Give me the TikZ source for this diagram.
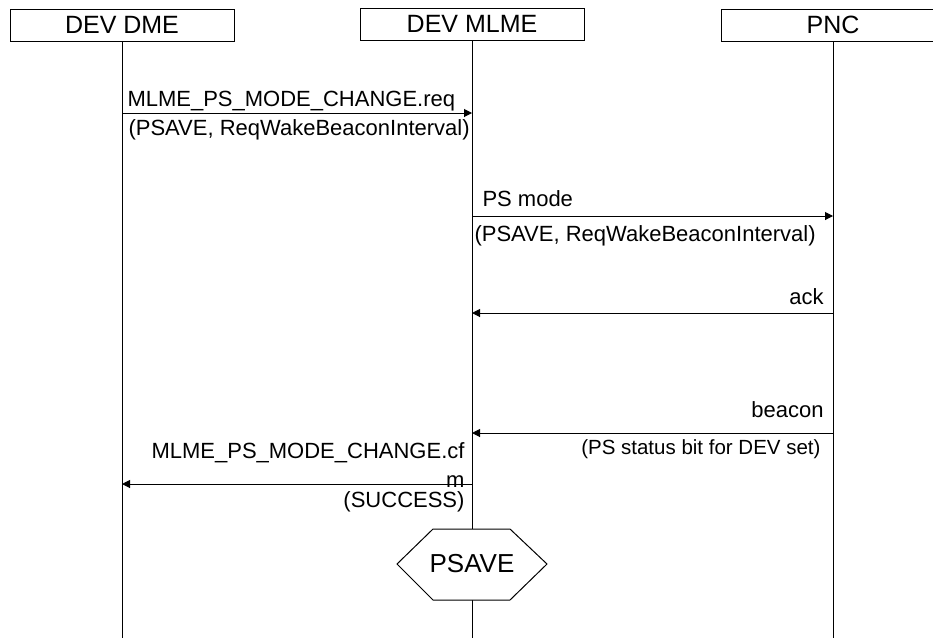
\documentclass[tikz,border=0pt]{standalone}
\usepackage{fontspec}
\setmainfont{Liberation Sans}
\usetikzlibrary{arrows.meta, positioning}

\begin{document}
\begin{tikzpicture}[
    x=1pt, y=-1pt,
    entity/.style={rectangle, draw, line width=1pt, minimum width=224pt, minimum height=32pt, inner sep=0pt, font=\fontsize{25}{30}\selectfont},
    lifeline/.style={line width=1pt},
    msg/.style={-{Triangle[length=8pt, width=8pt]}, line width=1pt},
    label/.style={font=\fontsize{22}{26}\selectfont, inner sep=0pt}
]
    \clip (0,0) rectangle (933,638);

    % Entities
    \node[entity] (dme) at (122,25) {DEV DME};
    \node[entity] (mlme) at (472,24) {DEV MLME};
    \node[entity] (pnc) at (833,25) {PNC};

    % Lifelines
    \coordinate (bottom) at (0,638);
    \draw[lifeline] (dme.south) -- (dme |- bottom);
    \draw[lifeline] (mlme.south) -- (mlme |- bottom);
    \draw[lifeline] (pnc.south) -- (pnc |- bottom);

    % Message rows
    \coordinate (r1) at (0,113);
    \coordinate (r2) at (0,216);
    \coordinate (r3) at (0,313);
    \coordinate (r4) at (0,433);
    \coordinate (r5) at (0,484);

    % Request
    \draw[msg] (dme |- r1) -- (mlme |- r1)
        node[label, pos=0, anchor=base west, xshift=5pt, yshift=7pt] {MLME\_PS\_MODE\_CHANGE.req}
        node[label, pos=0, anchor=base west, xshift=6pt, yshift=-22pt] {(PSAVE, ReqWakeBeaconInterval)};

    % PS mode frame
    \draw[msg] (mlme |- r2) -- (pnc |- r2)
        node[label, pos=0, anchor=base west, xshift=10pt, yshift=10pt] {PS mode}
        node[label, pos=0, anchor=base west, xshift=2pt, yshift=-25pt] {(PSAVE, ReqWakeBeaconInterval)};

    % Ack
    \draw[msg] (pnc |- r3) -- (mlme |- r3)
        node[label, pos=0, anchor=base east, xshift=-9pt, yshift=9pt] {ack};

    % Beacon
    \draw[msg] (pnc |- r4) -- (mlme |- r4)
        node[label, pos=0, anchor=base east, xshift=-9pt, yshift=16pt] {beacon}
        node[label, font=\fontsize{20.5}{25}\selectfont, pos=0, anchor=base east, xshift=-12pt, yshift=-21pt] {(PS status bit for DEV set)};

    % Confirm
    \draw[msg] (mlme |- r5) -- (dme |- r5)
        node[label, pos=0, anchor=base east, xshift=-7pt, yshift=26pt] {MLME\_PS\_MODE\_CHANGE.cf}
        node[label, pos=0, anchor=base east, xshift=-7pt, yshift=-3pt] {m}
        node[label, pos=0, anchor=base east, xshift=-7pt, yshift=-23pt] {(SUCCESS)};

    % State
    \node[font=\fontsize{26}{31}\selectfont, inner sep=0pt] (psave) at (472,564) {PSAVE};
    \draw[line width=1pt, fill=white] (397,564) -- (433,529) -- (510,529) -- (547,564) -- (510,600) -- (433,600) -- cycle;
    \node[font=\fontsize{26}{31}\selectfont, inner sep=0pt] at (psave) {PSAVE};
\end{tikzpicture}
\end{document}
